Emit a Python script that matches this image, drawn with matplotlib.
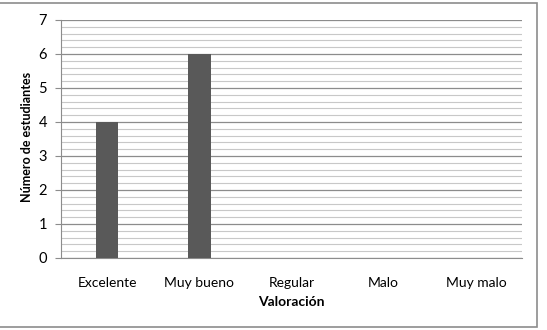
import matplotlib
matplotlib.use("Agg")
import matplotlib.pyplot as plt
from matplotlib.patches import Rectangle
from matplotlib.ticker import MultipleLocator

categories = ["Excelente", "Muy bueno", "Regular", "Malo", "Muy malo"]
values = [4, 6, 0, 0, 0]

plt.rcParams['font.family'] = ['Lato', 'DejaVu Sans']

fig = plt.figure(figsize=(5.47, 3.30), dpi=100)
fig.patches.append(Rectangle((-0.01, 0.009), 0.992, 0.982, transform=fig.transFigure,
                             fill=False, edgecolor='#8c8c8c', linewidth=1.2))
ax = fig.add_axes([0.1115, 0.2182, 0.8428, 0.7212])

x = list(range(len(categories)))
ax.bar(x, values, width=0.245, color='#595959', zorder=3)

ax.set_xlim(-0.5, len(categories) - 0.5)
ax.set_ylim(0, 7)
ax.yaxis.set_major_locator(MultipleLocator(1))
ax.yaxis.set_minor_locator(MultipleLocator(0.2))
ax.grid(axis='y', which='major', color='#8c8c8c', linewidth=0.9, zorder=0)
ax.grid(axis='y', which='minor', color='#c8c8c8', linewidth=0.8, zorder=0)
ax.set_xticks(x)
ax.set_xticklabels(categories, fontsize=10)
ax.tick_params(axis='x', length=0, pad=14)
ax.tick_params(axis='y', which='major', length=4, color='#8c8c8c', labelsize=10.5, pad=6)
ax.tick_params(axis='y', which='minor', length=0)

for s in ['top', 'right']:
    ax.spines[s].set_visible(False)
ax.spines['left'].set_color('#8c8c8c')
ax.spines['bottom'].set_color('#8c8c8c')

ax.set_xlabel('Valoración', fontsize=10, fontweight='bold', labelpad=5)
ax.set_ylabel('Número de estudiantes', fontsize=9, fontweight='bold')
ax.yaxis.set_label_coords(-0.061, 0.51)

fig.savefig('out.png', dpi=100)
